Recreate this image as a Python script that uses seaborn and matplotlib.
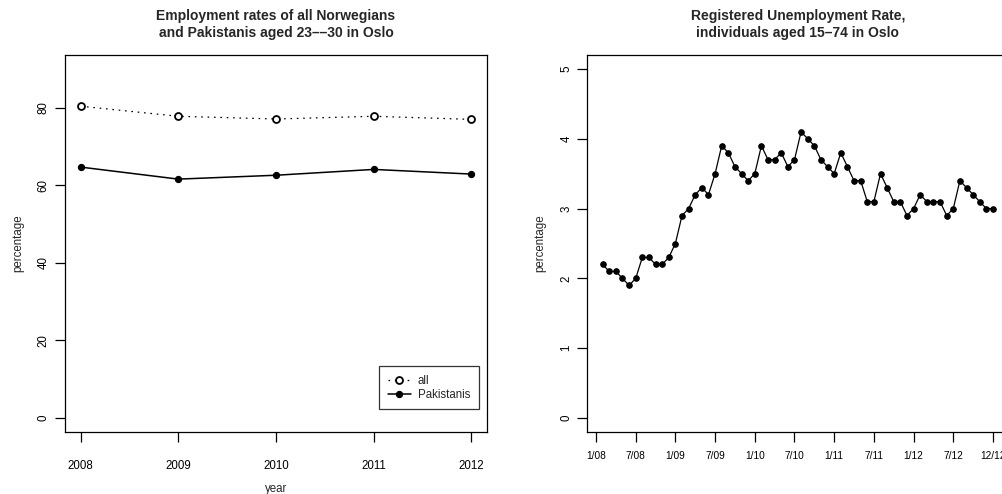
import matplotlib
matplotlib.use("Agg")
import matplotlib.pyplot as plt
import seaborn as sns
import numpy as np
import pandas as pd

# Employment rates, ages 23-30, Oslo
years = [2008, 2009, 2010, 2011, 2012]
rate_all = [80.4, 77.8, 77.1, 77.8, 77.0]
rate_pakistanis = [64.7, 61.6, 62.6, 64.1, 62.9]

# Registered unemployment, ages 15-74, Oslo (monthly, Jan 2008 - Dec 2012)
unemployment = [
    2.2, 2.1, 2.1, 2.0, 1.9, 2.0,
    2.3, 2.3, 2.2, 2.2, 2.3, 2.5,
    2.9, 3.0, 3.2, 3.3, 3.2, 3.5,
    3.9, 3.8, 3.6, 3.5, 3.4, 3.5,
    3.9, 3.7, 3.7, 3.8, 3.6, 3.7,
    4.1, 4.0, 3.9, 3.7, 3.6, 3.5,
    3.8, 3.6, 3.4, 3.4, 3.1, 3.1,
    3.5, 3.3, 3.1, 3.1, 2.9, 3.0,
    3.2, 3.1, 3.1, 3.1, 2.9, 3.0,
    3.4, 3.3, 3.2, 3.1, 3.0, 3.0,
]
month_ticks = [0, 6, 12, 18, 24, 30, 36, 42, 48, 54, 60]
month_labels = ["1/08", "7/08", "1/09", "7/09", "1/10", "7/10",
                "1/11", "7/11", "1/12", "7/12", "12/12"]

sns.set_style("ticks")
plt.rcParams["font.family"] = ["Liberation Sans", "DejaVu Sans"]
plt.rcParams["axes.linewidth"] = 0.9
plt.rcParams["xtick.major.width"] = 0.9
plt.rcParams["ytick.major.width"] = 0.9
plt.rcParams["xtick.color"] = "black"
plt.rcParams["ytick.color"] = "black"
plt.rcParams["axes.edgecolor"] = "black"

W, H = 1002, 494
fig = plt.figure(figsize=(W / 100, H / 100), dpi=100)

def frame(x0, x1, y0, y1):
    return [x0 / W, 1 - y1 / H, (x1 - x0) / W, (y1 - y0) / H]

ax1 = fig.add_axes(frame(65, 487, 55, 432))
ax2 = fig.add_axes(frame(587, 1008.6, 55, 432))

tick_fs = 8.3
title_fs = 10

# ---- left panel: employment rates ----
emp = pd.DataFrame({"year": years, "all": rate_all, "Pakistanis": rate_pakistanis})
sns.lineplot(data=emp, x="year", y="all", ax=ax1, color="black", lw=0.9,
             linestyle=(0, (1.3, 3.8)), marker="o", markersize=5,
             markerfacecolor="white", markeredgecolor="black",
             markeredgewidth=1.3, label="all")
sns.lineplot(data=emp, x="year", y="Pakistanis", ax=ax1, color="black", lw=1.1,
             marker="o", markersize=4.5, markerfacecolor="black",
             markeredgecolor="black", label="Pakistanis")

ax1.set_xlim(2008 - 0.16, 2012 + 0.16)
ax1.set_ylim(-3.6, 93.6)
ax1.set_xticks(years)
ax1.set_xticklabels([str(y) for y in years])
ax1.set_yticks([0, 20, 40, 60, 80])
ax1.set_yticklabels(["0", "20", "40", "60", "80"], rotation=90, va="center")
ax1.tick_params(axis="x", length=7, pad=13, labelsize=tick_fs)
ax1.tick_params(axis="y", length=7, pad=4, labelsize=tick_fs)
ax1.set_xlabel("year", fontsize=tick_fs, labelpad=8)
ax1.set_ylabel("percentage", fontsize=tick_fs, labelpad=10)
ax1.set_title("Employment rates of all Norwegians\nand Pakistanis aged 23\u2013\u201330 in Oslo",
              fontsize=title_fs, fontweight="bold", pad=13, linespacing=1.3)
leg = ax1.legend(loc="lower right", bbox_to_anchor=(0.98, 0.06),
                 fontsize=tick_fs, frameon=True, fancybox=False,
                 edgecolor="#333333", framealpha=1, borderpad=0.75,
                 handlelength=2.0, handletextpad=0.6, labelspacing=0.15,
                 borderaxespad=0)
leg.get_frame().set_linewidth(0.9)

# ---- right panel: registered unemployment ----
unemp = pd.DataFrame({"month": np.arange(1, len(unemployment) + 1),
                      "rate": unemployment})
sns.lineplot(data=unemp, x="month", y="rate", ax=ax2, color="black", lw=0.9,
             marker="o", markersize=4, markerfacecolor="black",
             markeredgecolor="black")
ax2.set_xlim(1 - 2.36, 60 + 2.36)
ax2.set_ylim(-0.2, 5.2)
ax2.set_xticks(month_ticks)
ax2.set_xticklabels(month_labels)
ax2.set_yticks([0, 1, 2, 3, 4, 5])
ax2.set_yticklabels(["0", "1", "2", "3", "4", "5"], rotation=90, va="center")
ax2.tick_params(axis="x", length=7, pad=7, labelsize=7.3)
ax2.tick_params(axis="y", length=7, pad=3.5, labelsize=tick_fs)
ax2.set_xlabel("")
ax2.set_ylabel("percentage", fontsize=tick_fs, labelpad=10)
ax2.set_title("Registered Unemployment Rate,\nindividuals aged 15\u201374 in Oslo",
              fontsize=title_fs, fontweight="bold", pad=13, linespacing=1.3)

for ax in (ax1, ax2):
    for s in ax.spines.values():
        s.set_visible(True)
        s.set_color("black")

fig.savefig("out.png", dpi=100)
